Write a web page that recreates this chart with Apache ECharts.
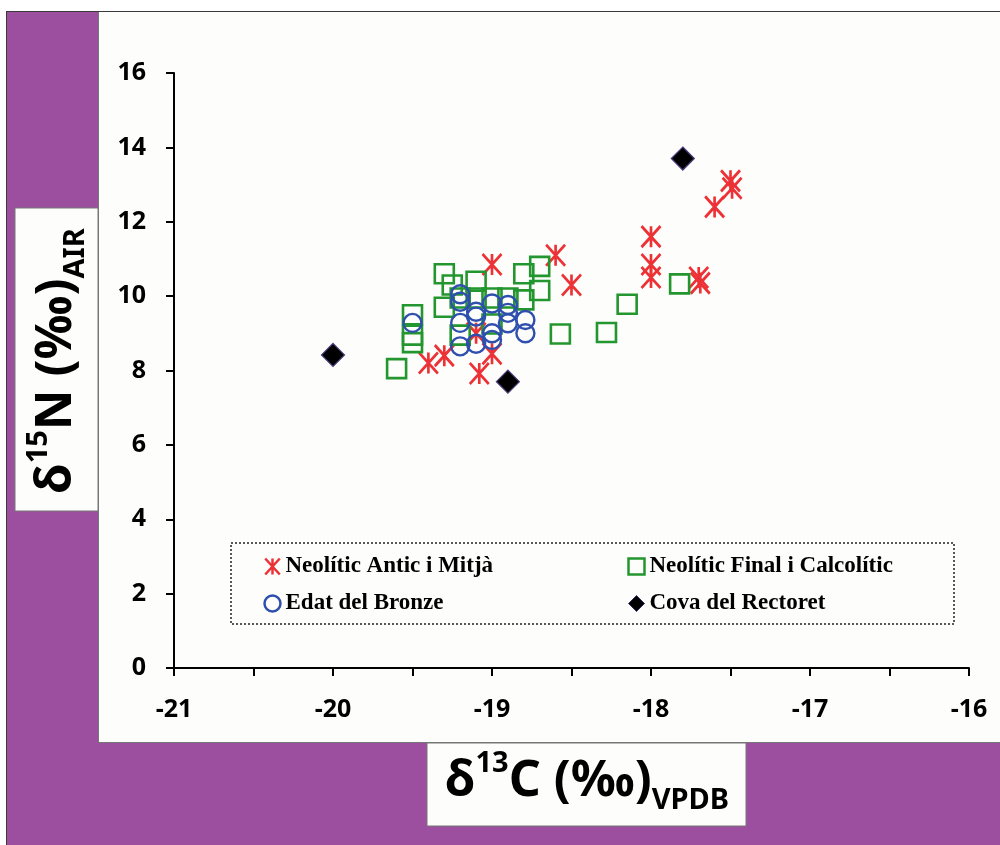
<!DOCTYPE html>
<html>
<head>
<meta charset="utf-8">
<script src="https://cdn.jsdelivr.net/npm/echarts@6/dist/echarts.min.js"></script>
<style>
html, body { margin: 0; padding: 0; background: #fff; }
#bg { position: absolute; left: 6px; top: 11px; width: 994px; height: 834px; background: #9b4f9e;
      border-left: 1px solid #3a3a3a; border-top: 1px solid #3a3a3a; box-sizing: border-box; }
#panel { position: absolute; left: 98px; top: 12px; width: 902px; height: 731px; background: #fdfdfb;
         border-left: 1px solid #777; border-bottom: 1px solid #777; box-sizing: border-box; }
#chart { position: absolute; left: 0; top: 0; width: 1000px; height: 845px; }
</style>
</head>
<body>
<div id="bg"></div>
<div id="panel"></div>
<div id="chart"></div>
<script>
// [d13C, d15N]
const neoliticAntic = [
  [-17.5, 13.1], [-17.49, 12.9], [-17.6, 12.4], [-18.0, 11.6], [-18.0, 10.85], [-18.0, 10.5],
  [-17.7, 10.5], [-17.69, 10.35], [-18.6, 11.1], [-18.5, 10.3], [-19.0, 10.85], [-19.1, 9.0],
  [-19.0, 8.45], [-19.3, 8.4], [-19.4, 8.2], [-19.08, 7.92]
];
const neoliticFinal = [
  [-19.3, 10.6], [-19.25, 10.3], [-19.1, 10.4], [-18.8, 10.6], [-18.7, 10.8], [-18.7, 10.15],
  [-18.8, 9.9], [-18.9, 9.95], [-19.0, 9.95], [-19.1, 9.95], [-19.2, 9.95], [-19.3, 9.7],
  [-19.5, 9.5], [-19.5, 8.95], [-19.5, 8.75], [-19.2, 8.95], [-19.0, 9.25], [-19.6, 8.05],
  [-18.57, 8.98], [-18.28, 9.02], [-18.15, 9.78], [-17.82, 10.33]
];
const edatBronze = [
  [-19.2, 10.05], [-19.2, 9.85], [-19.5, 9.28], [-19.2, 9.28], [-19.2, 8.65], [-19.1, 9.58],
  [-19.1, 9.45], [-19.1, 8.72], [-19.0, 9.8], [-19.0, 9.0], [-19.0, 8.82], [-18.9, 9.76],
  [-18.9, 9.55], [-18.9, 9.27], [-18.79, 9.36], [-18.79, 9.0]
];
const covaRectoret = [[-17.8, 13.7], [-20.0, 8.42], [-18.9, 7.7]];

const seriesNames = ['Neolític Antic i Mitjà', 'Neolític Final i Calcolític', 'Edat del Bronze', 'Cova del Rectoret'];
const red = '#ec3236', green = '#23962f', blue = '#2f4fae';
const asterisk = 'path://M0,0L20,22M20,0L0,22M10,0L10,22';

let chart = echarts.init(document.getElementById('chart'));

let legendText = { fontFamily: 'Liberation Serif', fontWeight: 'bold', fontSize: 23, color: '#000' };
let titleRich = {
  m: { fontFamily: 'Noto Sans', fontWeight: 'bold', fontSize: 50, lineHeight: 66, color: '#000' },
  s: { fontFamily: 'Noto Sans', fontWeight: 'bold', fontSize: 29, lineHeight: 60, verticalAlign: 'top', color: '#000' },
  b: { fontFamily: 'Noto Sans', fontWeight: 'bold', fontSize: 29, lineHeight: 12, verticalAlign: 'bottom', color: '#000' }
};

let option = {
  animation: false,
  grid: { left: 174, right: 31, top: 73, bottom: 177 },
  xAxis: {
    type: 'value', min: -21, max: -16, interval: 0.5,
    axisLine: { lineStyle: { color: '#000', width: 2 } },
    axisTick: { length: 8, lineStyle: { color: '#000', width: 2 } },
    splitLine: { show: false },
    axisLabel: {
      margin: 29, color: '#000', fontFamily: 'Open Sans', fontWeight: 'bold', fontSize: 25,
      formatter: v => (v % 1 === 0 ? String(v) : '')
    }
  },
  yAxis: {
    type: 'value', min: 0, max: 16, interval: 2,
    axisLine: { show: true, lineStyle: { color: '#000', width: 2 } },
    axisTick: { show: true, length: 8, lineStyle: { color: '#000', width: 2 } },
    splitLine: { show: false },
    axisLabel: { margin: 28, color: '#000', fontFamily: 'Open Sans', fontWeight: 'bold', fontSize: 25 }
  },
  legend: [
    {
      orient: 'vertical', left: 257, top: 550, itemGap: 14, itemWidth: 16, itemHeight: 16,
      selectedMode: false, textStyle: legendText,
      data: [
        { name: seriesNames[0], itemStyle: { color: 'none', borderColor: red, borderWidth: 2.5, opacity: 1 } },
        { name: seriesNames[2], itemStyle: { color: 'none', borderColor: blue, borderWidth: 2.5, opacity: 1 } }
      ]
    },
    {
      orient: 'vertical', left: 621, top: 550, itemGap: 14, itemWidth: 16, itemHeight: 16,
      selectedMode: false, textStyle: legendText,
      data: [
        { name: seriesNames[1], itemStyle: { color: 'none', borderColor: green, borderWidth: 2.5, opacity: 1 } },
        { name: seriesNames[3], itemStyle: { color: '#000', borderColor: '#3a2a6a', borderWidth: 1, opacity: 1 } }
      ]
    }
  ],
  series: [
    {
      name: seriesNames[0], type: 'scatter', data: neoliticAntic,
      symbol: asterisk, symbolSize: [19, 21],
      itemStyle: { color: 'none', borderColor: red, borderWidth: 2.8, opacity: 1 }
    },
    {
      name: seriesNames[1], type: 'scatter', data: neoliticFinal,
      symbol: 'rect', symbolSize: 19,
      itemStyle: { color: 'rgba(0,0,0,0)', borderColor: green, borderWidth: 2.6, opacity: 1 }
    },
    {
      name: seriesNames[2], type: 'scatter', data: edatBronze,
      symbol: 'circle', symbolSize: 18,
      itemStyle: { color: 'rgba(0,0,0,0)', borderColor: blue, borderWidth: 2.4, opacity: 1 }
    },
    {
      name: seriesNames[3], type: 'scatter', data: covaRectoret,
      symbol: 'diamond', symbolSize: 23,
      itemStyle: { color: '#000', borderColor: '#4a3a7a', borderWidth: 1.2, opacity: 1 }
    }
  ],
  graphic: [
    { type: 'rect', shape: { x: 15, y: 208, width: 83, height: 303 },
      style: { fill: '#fdfdfb', stroke: '#777', lineWidth: 1 } },
    { type: 'text', x: 57, y: 361, rotation: Math.PI / 2,
      style: { text: '{m|δ}{s|15}{m|N (‰)}{b|AIR}', rich: titleRich, align: 'center', verticalAlign: 'middle' } },
    { type: 'rect', shape: { x: 427, y: 743, width: 319, height: 83 },
      style: { fill: '#fdfdfb', stroke: '#777', lineWidth: 1 } },
    { type: 'text', x: 587, y: 782,
      style: { text: '{m|δ}{s|13}{m|C (‰)}{b|VPDB}', rich: titleRich, align: 'center', verticalAlign: 'middle' } },
    { type: 'rect', shape: { x: 231, y: 543, width: 723, height: 81 },
      style: { fill: 'none', stroke: '#222', lineWidth: 1.5, lineDash: [2, 2] } }
  ]
};
chart.setOption(option);
</script>
</body>
</html>
